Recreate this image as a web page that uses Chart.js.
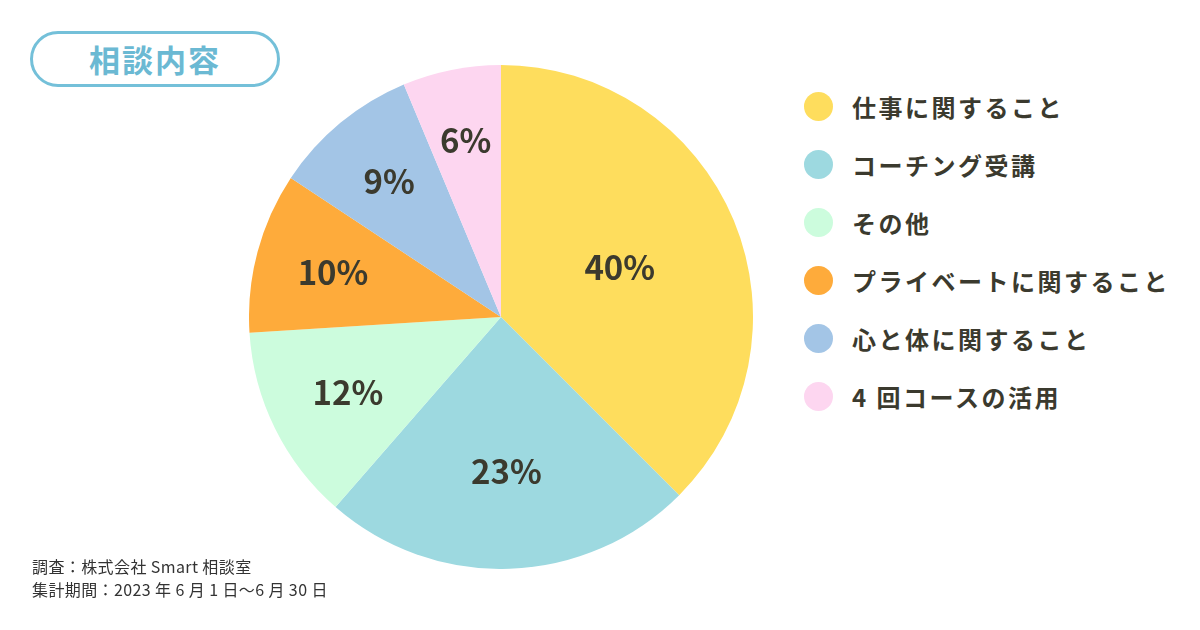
<!DOCTYPE html>
<html lang="ja">
<head>
<meta charset="utf-8">
<script src="https://cdn.jsdelivr.net/npm/chart.js@4.4.0/dist/chart.umd.min.js"></script>
<style>
  html, body { margin: 0; padding: 0; background: #fff; }
  body { width: 1200px; height: 630px; position: relative; overflow: hidden;
         font-family: "Noto Sans CJK JP", "Noto Sans", sans-serif; color: #3b3a2e; }
  .title { position: absolute; left: 30px; top: 31px; width: 244px; height: 50px;
           border: 3px solid #74c0d9; border-radius: 28px; box-sizing: content-box;
           color: #6bb9d3; font-size: 31px; font-weight: 700; text-align: center;
           line-height: 50px; letter-spacing: 2px; }
  .pie-wrap { position: absolute; left: 249px; top: 65px; width: 504px; height: 504px; }
  .legend { position: absolute; left: 804px; top: 88px; margin: 0; padding: 0; list-style: none; }
  .legend li { height: 58px; display: flex; align-items: flex-start; font-size: 24px; font-weight: 700;
               letter-spacing: 2.5px; line-height: 38px; }
  .legend .dot { width: 29px; height: 29px; border-radius: 50%; margin: 4px 19px 0 0; flex: none; }
  .note { position: absolute; left: 32px; top: 555px; font-size: 16px; line-height: 23px;
          letter-spacing: 0.4px; color: #333; }
</style>
</head>
<body>
<div class="title">相談内容</div>
<div class="pie-wrap"><canvas id="pieChart"></canvas></div>
<ul class="legend" id="legend"></ul>
<div class="note">調査：株式会社 Smart 相談室<br>集計期間：2023 年 6 月 1 日～6 月 30 日</div>

<script>
const categories = ['仕事に関すること', 'コーチング受講', 'その他', 'プライベートに関すること', '心と体に関すること', '4 回コースの活用'];
// percentages printed on the chart
const shares = [40, 23, 12, 10, 9, 6];
// slice sizes as they are actually drawn in the picture (measured angles)
const sliceSizes = [37.5, 23.9, 12.6, 10.3, 9.4, 6.3];
const colors = ['#fedd5d', '#9dd9e0', '#ccfcdd', '#feab3b', '#a3c5e6', '#fdd6f0'];

// legend
const legend = document.getElementById('legend');
categories.forEach((name, i) => {
  const li = document.createElement('li');
  li.innerHTML = '<span class="dot" style="background:' + colors[i] + '"></span>' + name;
  legend.appendChild(li);
});

// percent labels inside slices, smaller slices get pushed further out
const sliceLabels = {
  id: 'sliceLabels',
  afterDatasetsDraw(chart) {
    const ctx = chart.ctx;
    const meta = chart.getDatasetMeta(0);
    ctx.save();
    ctx.fillStyle = '#3b3a2e';
    ctx.font = '700 33px "Noto Sans CJK JP", "Noto Sans", sans-serif';
    ctx.textAlign = 'center';
    ctx.textBaseline = 'middle';
    meta.data.forEach((arc, i) => {
      const mid = (arc.startAngle + arc.endAngle) / 2;
      const k = Math.min(0.73, 0.75 - 0.006 * shares[i]);
      const x = arc.x + Math.cos(mid) * arc.outerRadius * k;
      const y = arc.y + Math.sin(mid) * arc.outerRadius * k;
      ctx.fillText(shares[i] + '%', x, y);
    });
    ctx.restore();
  }
};

new Chart(document.getElementById('pieChart').getContext('2d'), {
  type: 'pie',
  data: {
    labels: categories,
    datasets: [{
      data: sliceSizes,
      backgroundColor: colors,
      borderWidth: 0
    }]
  },
  options: {
    responsive: true,
    maintainAspectRatio: false,
    animation: false,
    layout: { padding: 0 },
    plugins: {
      legend: { display: false },
      tooltip: { enabled: false }
    }
  },
  plugins: [sliceLabels]
});
</script>
</body>
</html>
